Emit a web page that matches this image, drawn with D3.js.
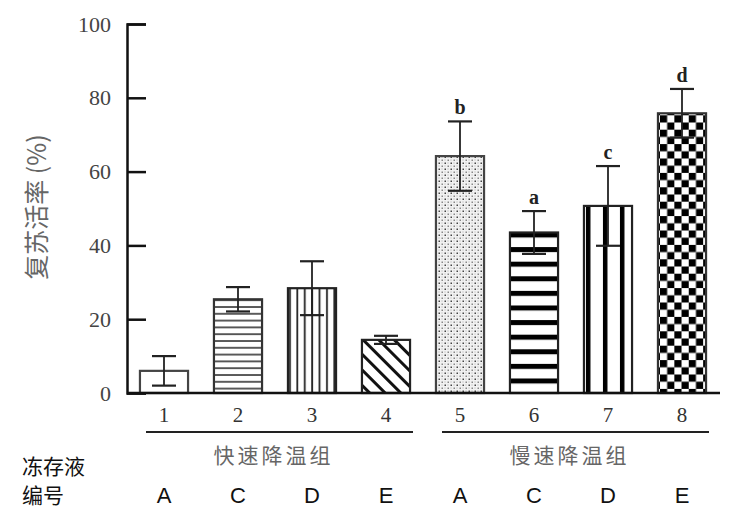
<!DOCTYPE html>
<html><head><meta charset="utf-8">
<script src="https://cdn.jsdelivr.net/npm/d3@7/dist/d3.min.js"></script>
<style>body{margin:0;background:#fff}</style>
</head><body>
<svg id="c" width="754" height="524"></svg>
<script>
const categories = ["1","2","3","4","5","6","7","8"];
const values = [6, 25.4, 28.4, 14.4, 64.2, 43.5, 50.7, 75.8];
const errors = [4, 3.3, 7.3, 1.1, 9.4, 5.8, 10.8, 6.6];
const letters = ["", "", "", "", "b", "a", "c", "d"];
const solutions = ["A", "C", "D", "E", "A", "C", "D", "E"];
const groupNames = ["快速降温组", "慢速降温组"];
const groupMembers = [["1","2","3","4"], ["5","6","7","8"]];
const yTicks = [0, 20, 40, 60, 80, 100];

const svg = d3.select("#c");
const x = d3.scaleBand().domain(categories).range([127, 719]).paddingInner(0.35).paddingOuter(0.175);
const y = d3.scaleLinear().domain([0, 100]).range([393, 24]);

const defs = svg.append("defs");
const p2 = defs.append("pattern").attr("id","hl").attr("patternUnits","userSpaceOnUse").attr("width",8).attr("height",6.8);
p2.append("rect").attr("width",8).attr("height",6.8).attr("fill","#fff");
p2.append("line").attr("x1",0).attr("x2",8).attr("y1",1).attr("y2",1).attr("stroke","#333").attr("stroke-width",1.6);

const p3 = defs.append("pattern").attr("id","vl").attr("patternUnits","userSpaceOnUse").attr("width",7.4).attr("height",8).attr("x", x("3"));
p3.append("rect").attr("width",7.4).attr("height",8).attr("fill","#fff");
p3.append("line").attr("y1",0).attr("y2",8).attr("x1",2).attr("x2",2).attr("stroke","#222").attr("stroke-width",1.8);

const p4 = defs.append("pattern").attr("id","dg").attr("patternUnits","userSpaceOnUse").attr("width",11).attr("height",11).attr("patternTransform","rotate(45)");
p4.append("rect").attr("width",11).attr("height",11).attr("fill","#fff");
p4.append("line").attr("x1",0).attr("x2",11).attr("y1",5.5).attr("y2",5.5).attr("stroke","#111").attr("stroke-width",3);

const p5 = defs.append("pattern").attr("id","dt").attr("patternUnits","userSpaceOnUse").attr("width",6).attr("height",6);
p5.append("rect").attr("width",6).attr("height",6).attr("fill","#f2f2f2");
p5.append("rect").attr("x",0.5).attr("y",0.5).attr("width",1.5).attr("height",1.5).attr("fill","#444");
p5.append("rect").attr("x",3.5).attr("y",3.5).attr("width",1.5).attr("height",1.5).attr("fill","#888");
p5.append("rect").attr("x",3.5).attr("y",0.5).attr("width",1).attr("height",1).attr("fill","#aaa");
p5.append("rect").attr("x",0.5).attr("y",3.5).attr("width",1).attr("height",1).attr("fill","#aaa");

const p6 = defs.append("pattern").attr("id","th").attr("patternUnits","userSpaceOnUse").attr("width",8).attr("height",14.6).attr("y", y(values[5]));
p6.append("rect").attr("width",8).attr("height",14.6).attr("fill","#fff");
p6.append("rect").attr("y",0).attr("width",8).attr("height",5).attr("fill","#000");

const p7 = defs.append("pattern").attr("id","tv").attr("patternUnits","userSpaceOnUse").attr("width",17).attr("height",8).attr("x", x("7")+2);
p7.append("rect").attr("width",17).attr("height",8).attr("fill","#fff");
p7.append("rect").attr("x",0).attr("width",4.5).attr("height",8).attr("fill","#000");

const p8 = defs.append("pattern").attr("id","ck").attr("patternUnits","userSpaceOnUse").attr("width",14.4).attr("height",14.4).attr("x", x("8")+2).attr("y", y(values[7])+2);
p8.append("rect").attr("width",14.4).attr("height",14.4).attr("fill","#fff");
p8.append("rect").attr("width",7.2).attr("height",7.2).attr("fill","#000");
p8.append("rect").attr("x",7.2).attr("y",7.2).attr("width",7.2).attr("height",7.2).attr("fill","#000");

const fills = ["#fff","url(#hl)","url(#vl)","url(#dg)","url(#dt)","url(#th)","url(#tv)","url(#ck)"];
const strokes = ["#444","#333","#222","#222","#444","#222","#222","#333"];

svg.append("g").selectAll("rect").data(categories).join("rect")
  .attr("x", d => x(d)).attr("width", x.bandwidth())
  .attr("y", (d,i) => y(values[i])).attr("height", (d,i) => y(0) - y(values[i]))
  .attr("fill", (d,i) => fills[i]).attr("stroke", (d,i) => strokes[i]).attr("stroke-width", 2.2);

const eb = svg.append("g").attr("stroke","#222").attr("stroke-width",1.8);
categories.forEach((d,i) => {
  const cx = x(d) + x.bandwidth()/2;
  const hi = y(values[i] + errors[i]), lo = y(values[i] - errors[i]);
  eb.append("line").attr("x1",cx).attr("x2",cx).attr("y1",hi).attr("y2",lo);
  eb.append("line").attr("x1",cx-12).attr("x2",cx+12).attr("y1",hi).attr("y2",hi).attr("stroke-width",2.2);
  eb.append("line").attr("x1",cx-12).attr("x2",cx+12).attr("y1",lo).attr("y2",lo).attr("stroke-width",2.2);
  if (letters[i]) {
    svg.append("text").attr("x",cx).attr("y",hi-7).attr("text-anchor","middle")
      .attr("font-family","Liberation Serif, serif").attr("font-weight","bold").attr("font-size",20).attr("fill","#222")
      .text(letters[i]);
  }
});

const ya = svg.append("g").attr("transform", `translate(${127},0)`)
  .call(d3.axisLeft(y).tickValues(yTicks).tickSize(-19).tickPadding(30));
ya.select(".domain").attr("stroke","#111").attr("stroke-width",2.5);
ya.selectAll(".tick line").attr("stroke","#111").attr("stroke-width",2.5);
ya.selectAll(".tick text").attr("font-family","Liberation Serif, serif").attr("font-size",22).attr("fill","#444").attr("dx",14);

svg.append("line").attr("x1",127).attr("x2",720).attr("y1",y(0)).attr("y2",y(0)).attr("stroke","#111").attr("stroke-width",2.5);

svg.append("g").selectAll("text").data(categories).join("text")
  .attr("x", d => x(d) + x.bandwidth()/2).attr("y", 422).attr("text-anchor","middle")
  .attr("font-family","Liberation Serif, serif").attr("font-size",21).attr("fill","#333").text(d => d);

groupMembers.forEach((m,gi) => {
  const x0 = x(m[0]) + x.bandwidth()/2 - 18;
  const x1 = x(m[m.length-1]) + x.bandwidth()/2 + 27;
  svg.append("line").attr("x1",x0).attr("x2",x1).attr("y1",432).attr("y2",432).attr("stroke","#222").attr("stroke-width",2.2);
  svg.append("text").attr("x",(x0+x1)/2 - 6).attr("y",463).attr("text-anchor","middle")
    .attr("font-family","Noto Sans CJK SC, sans-serif").attr("font-size",21).attr("letter-spacing",3).attr("fill","#666").text(groupNames[gi]);
});

svg.append("text").attr("x",22).attr("y",474).attr("font-family","Noto Sans CJK SC, sans-serif").attr("font-size",21).attr("fill","#111").text("冻存液");
svg.append("text").attr("x",22).attr("y",503).attr("font-family","Noto Sans CJK SC, sans-serif").attr("font-size",21).attr("fill","#111").text("编号");
svg.append("g").selectAll("text").data(categories).join("text")
  .attr("x", d => x(d) + x.bandwidth()/2).attr("y", 503).attr("text-anchor","middle")
  .attr("font-family","Liberation Sans, Arial, sans-serif").attr("font-size",22).attr("fill","#111")
  .text((d,i) => solutions[i]);

svg.append("text").attr("transform","translate(46,207) rotate(-90)").attr("text-anchor","middle")
  .attr("font-family","Noto Sans CJK SC, sans-serif").attr("font-size",25).attr("fill","#666").text("复苏活率 (%)");
</script>
</body></html>
